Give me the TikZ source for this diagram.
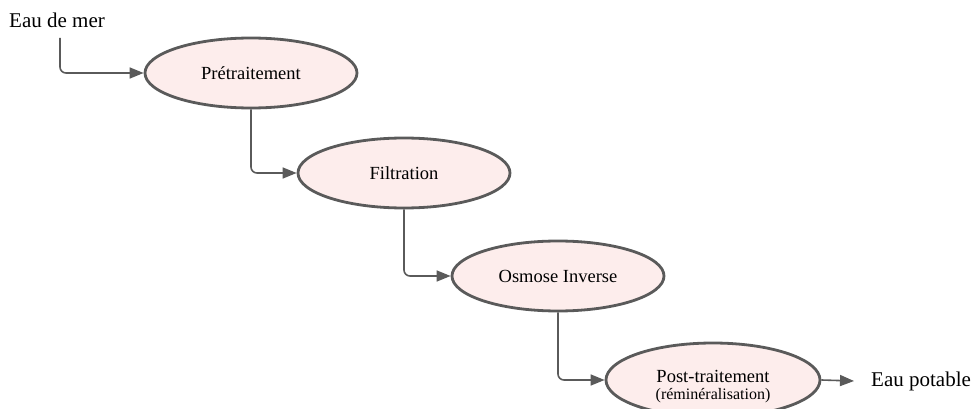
\documentclass[tikz,border=0pt]{standalone}
\usepackage{fontspec}
\setmainfont{Liberation Serif}
\usetikzlibrary{shapes.geometric,arrows.meta}
\definecolor{linegray}{HTML}{5A5A5A}
\definecolor{pinkfill}{HTML}{FDEDEC}
\begin{document}
\begin{tikzpicture}[x=1pt,y=-1pt,
  stage/.style={ellipse,draw=linegray,line width=2.8pt,fill=pinkfill,minimum width=212pt,minimum height=70pt,inner sep=0pt,font=\fontsize{18.5}{20}\selectfont,align=center},
  flow/.style={draw=linegray,line width=1.6pt,rounded corners=6pt,-{Triangle[length=14pt,width=11pt]}},
  label/.style={font=\fontsize{21}{23}\selectfont,inner sep=0pt}]
\useasboundingbox (0,0) rectangle (978,409);
\node[label,anchor=west] (in) at (9,20) {Eau de mer};
\coordinate (inS) at (60,38);
\node[stage] (p1) at (251,73) {Prétraitement};
\node[stage] (p2) at (404,173) {Filtration};
\node[stage] (p3) at (558,276) {Osmose Inverse};
\node[stage,minimum width=214pt,minimum height=74pt] (p4) at (713,380) {};
\node[align=center,inner sep=0pt,font=\fontsize{18.5}{20}\selectfont] (p4t) at (713,387) {Post-traitement\\[-3pt]{\fontsize{16}{17}\selectfont(réminéralisation)}};
\node[label,anchor=west] (out) at (871,381) {Eau potable};
\draw[flow] (inS) |- (p1.west);
\draw[flow] (p1.south) |- (p2.west);
\draw[flow] (p2.south) |- (p3.west);
\draw[flow] (p3.south) |- (p4.west);
\draw[flow,rounded corners=0pt] (p4.east) -- ([xshift=-17pt]out.west);
\end{tikzpicture}
\end{document}
